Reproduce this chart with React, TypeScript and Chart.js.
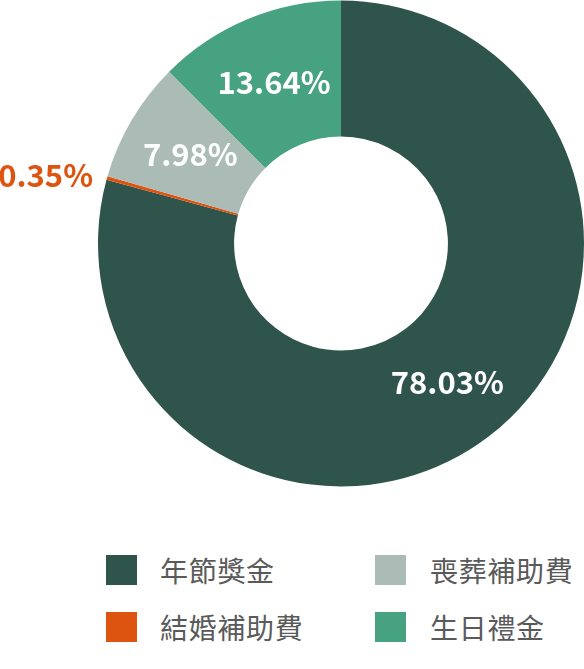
import React, { useEffect, useRef } from "react";
import { Chart, registerables } from "chart.js";

Chart.register(...registerables);

const categories = ["年節獎金", "結婚補助費", "喪葬補助費", "生日禮金"];
const sliceShares = [79.22, 0.25, 8.03, 12.5];
// percentage labels as printed on the chart
const labelTexts = ["78.03%", "0.35%", "7.98%", "13.64%"];
const colors = ["#2f544b", "#dd5411", "#abbcb6", "#46a281"];
const legendOrder = [0, 2, 1, 3];

const FONT = '"Noto Sans CJK TC", "Noto Sans", sans-serif';

const labelPlugin = {
  id: "sliceLabels",
  afterDatasetsDraw(chart: any) {
    const ctx = chart.ctx;
    const meta = chart.getDatasetMeta(0);
    ctx.save();
    ctx.font = `bold 31px ${FONT}`;
    ctx.textBaseline = "middle";
    meta.data.forEach((arc: any, i: number) => {
      const p = arc.getProps(["startAngle", "endAngle", "innerRadius", "outerRadius", "x", "y"], true);
      const mid = (p.startAngle + p.endAngle) / 2;
      const text = labelTexts[i];
      if (sliceShares[i] < 2) {
        const ox = p.x + Math.cos(mid) * p.outerRadius;
        const oy = p.y + Math.sin(mid) * p.outerRadius;
        ctx.fillStyle = colors[i];
        ctx.textAlign = "right";
        ctx.fillText(text, ox - 14, oy - 3);
      } else {
        const r = (p.innerRadius + p.outerRadius) / 2;
        ctx.fillStyle = "#ffffff";
        ctx.textAlign = "center";
        ctx.fillText(text, p.x + Math.cos(mid) * r, p.y + Math.sin(mid) * r);
      }
    });
    ctx.restore();
  },
};

export default function App() {
  const ref = useRef<HTMLCanvasElement | null>(null);

  useEffect(() => {
    if (!ref.current) return;
    const chart = new Chart(ref.current, {
      type: "doughnut",
      data: {
        labels: categories,
        datasets: [
          {
            data: sliceShares,
            backgroundColor: colors,
            borderWidth: 0,
          },
        ],
      },
      options: {
        responsive: false,
        animation: false,
        cutout: "44%",
        layout: { padding: { left: 98, top: 0, right: 0, bottom: 0 } },
        plugins: {
          legend: { display: false },
          tooltip: { enabled: false },
        },
      },
      plugins: [labelPlugin],
    });
    return () => chart.destroy();
  }, []);

  const cols = [
    { box: 106, text: 160 },
    { box: 375, text: 430 },
  ];
  const rows = [570, 627];

  return (
    <div style={{ position: "absolute", left: 0, top: 0, width: 584, height: 669, background: "#fff" }}>
      <canvas ref={ref} width={584} height={487} style={{ position: "absolute", left: 0, top: 0, width: 584, height: 487 }} />
      {legendOrder.map((idx, k) => {
        const col = cols[k % 2];
        const rowY = rows[Math.floor(k / 2)];
        return (
          <React.Fragment key={idx}>
            <div
              style={{
                position: "absolute",
                left: col.box,
                top: rowY - 15,
                width: 31,
                height: 30,
                background: colors[idx],
              }}
            />
            <div
              style={{
                position: "absolute",
                left: col.text,
                top: rowY - 20,
                height: 40,
                lineHeight: "40px",
                fontFamily: FONT,
                fontSize: 28,
                letterSpacing: 0.7,
                color: "#5a5a5a",
                whiteSpace: "nowrap",
              }}
            >
              {categories[idx]}
            </div>
          </React.Fragment>
        );
      })}
    </div>
  );
}
